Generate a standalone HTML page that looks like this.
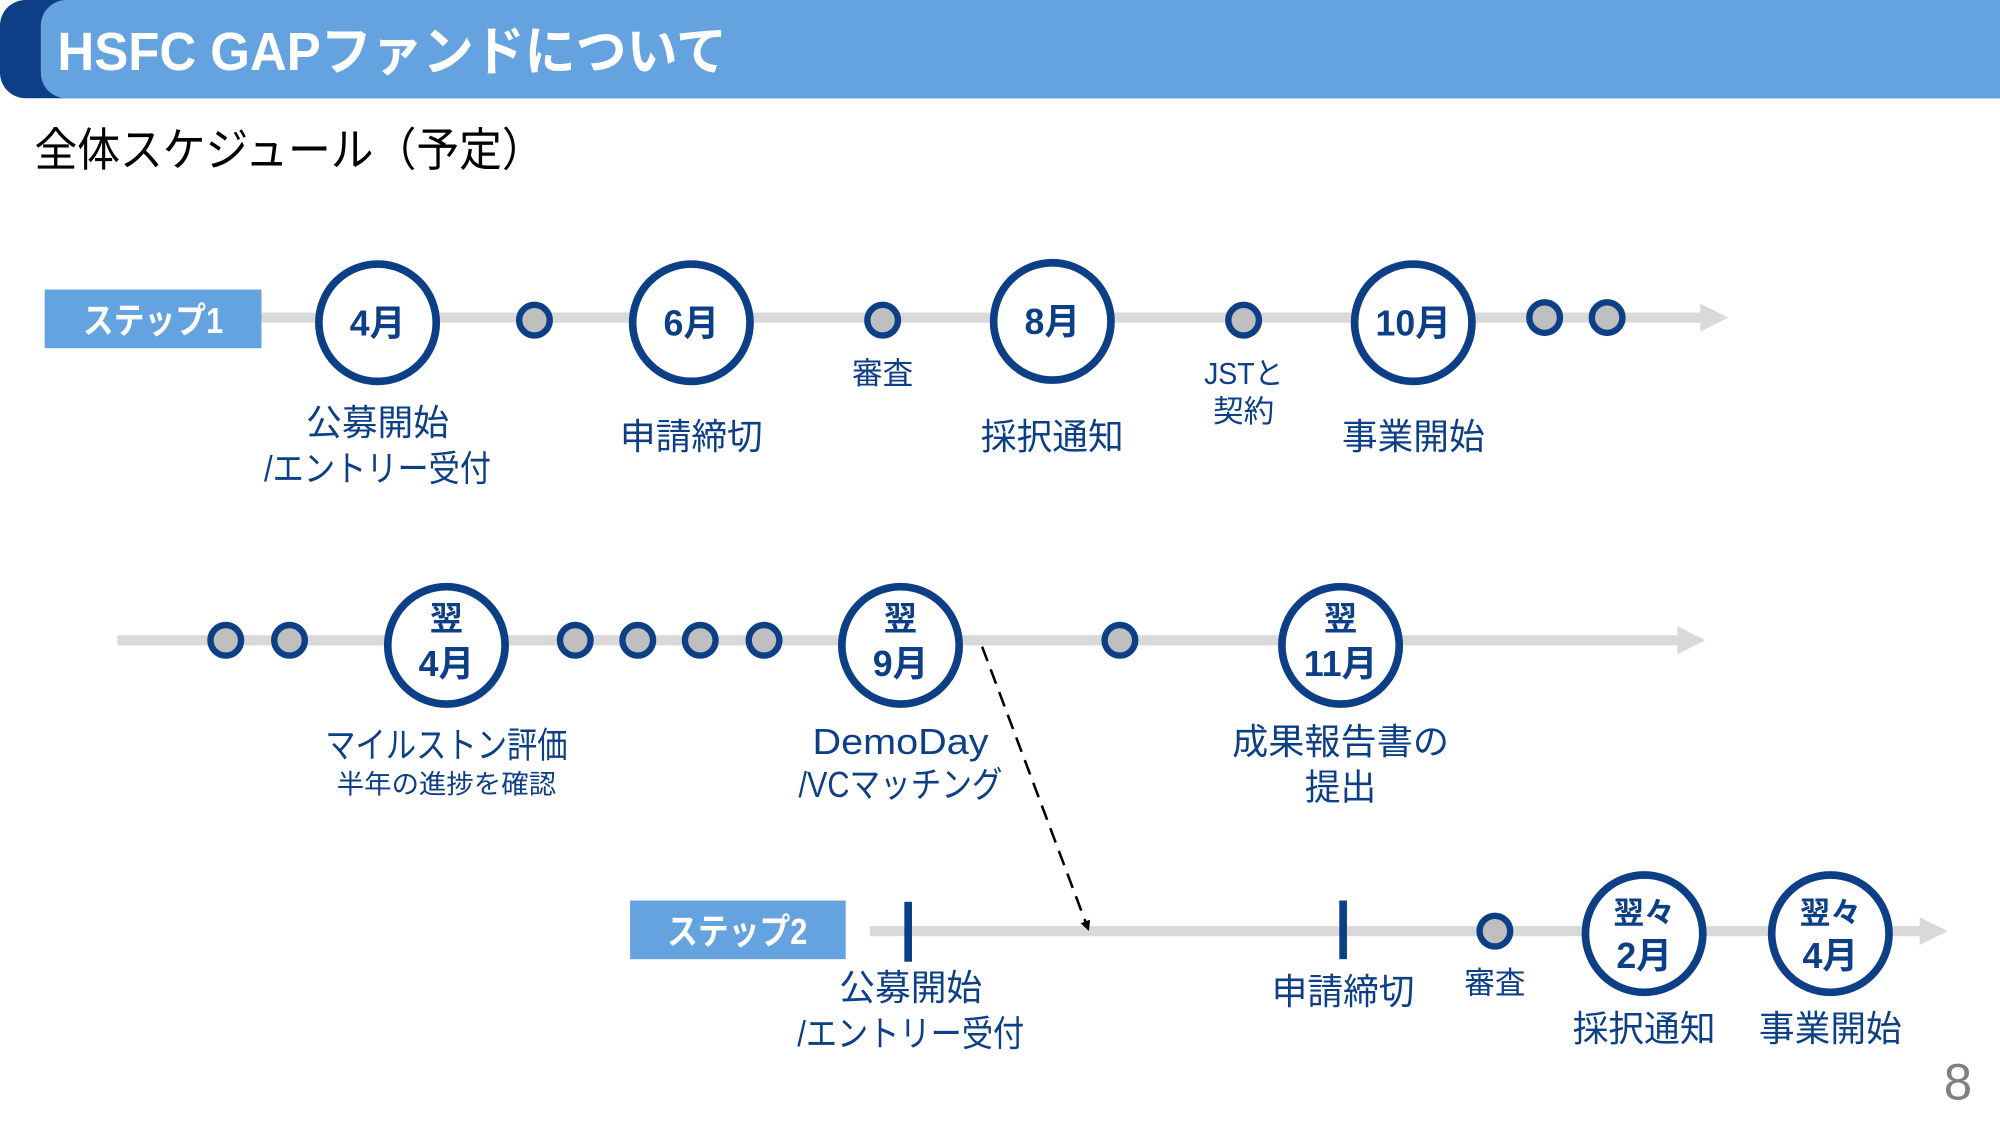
<!DOCTYPE html>
<html><head><meta charset="utf-8"><style>
html,body{margin:0;padding:0;background:#fff;}
svg{display:block;}
text{font-family:"Liberation Sans","Noto Sans CJK JP",sans-serif;}
</style></head><body>
<svg width="2000" height="1125" viewBox="0 0 1568 882" preserveAspectRatio="none" xmlns="http://www.w3.org/2000/svg">
<defs>
<marker id="ah" markerWidth="8" markerHeight="8" refX="6" refY="4" orient="auto" markerUnits="userSpaceOnUse"><path d="M0,0 L8,4 L0,8 z" fill="#000"/></marker>
</defs>
<rect x="0" y="0" width="1600" height="77" rx="20" fill="#0d3f87"/>
<rect x="32" y="0" width="1560" height="77" rx="20" fill="#64a3df"/>
<text x="45" y="55" font-size="42" font-weight="bold" fill="#fff" textLength="525" lengthAdjust="spacingAndGlyphs">HSFC GAPファンドについて</text>
<text x="27" y="130" font-size="36" fill="#000" textLength="400" lengthAdjust="spacingAndGlyphs">全体スケジュール（予定）</text>

<g fill="#d9d9d9">
<rect x="205" y="245" width="1135" height="8"/><path d="M1333,238 L1355,249 L1333,260z"/>
<rect x="92" y="498" width="1230" height="8"/><path d="M1315,491 L1337,502 L1315,513z"/>
<rect x="682" y="726" width="830" height="8"/><path d="M1505,719 L1527,730 L1505,741z"/>
</g>

<rect x="35" y="227" width="170" height="46" fill="#64a3df"/>
<text x="120" y="261" font-size="28" font-weight="bold" fill="#fff" text-anchor="middle" textLength="110" lengthAdjust="spacingAndGlyphs">ステップ1</text>
<rect x="494" y="706" width="169" height="46" fill="#64a3df"/>
<text x="578" y="740" font-size="28" font-weight="bold" fill="#fff" text-anchor="middle" textLength="110" lengthAdjust="spacingAndGlyphs">ステップ2</text>

<g fill="#bfbfbf" stroke="#0d3f87" stroke-width="5">
<circle cx="419" cy="251" r="12"/><circle cx="692" cy="251" r="12"/><circle cx="975" cy="251" r="12"/><circle cx="1211" cy="249" r="12"/><circle cx="1260" cy="249" r="12"/>
<circle cx="177" cy="502" r="12"/><circle cx="227" cy="502" r="12"/><circle cx="451" cy="502" r="12"/><circle cx="500" cy="502" r="12"/><circle cx="549" cy="502" r="12"/><circle cx="599" cy="502" r="12"/><circle cx="878" cy="502" r="12"/>
<circle cx="1172" cy="730" r="12"/>
</g>
<g fill="#fff" stroke="#0d3f87" stroke-width="6">
<circle cx="296" cy="253" r="46"/><circle cx="542" cy="253" r="46"/><circle cx="825" cy="252" r="46"/><circle cx="1108" cy="253" r="46"/>
<circle cx="350" cy="506" r="46"/><circle cx="706" cy="506" r="46"/><circle cx="1051" cy="506" r="46"/>
<circle cx="1289" cy="732" r="46"/><circle cx="1435" cy="732" r="46"/>
</g>
<rect x="709" y="707" width="6" height="47" fill="#0d3f87"/>
<rect x="1050" y="706" width="6" height="46" fill="#0d3f87"/>

<g fill="#0d3f87" font-weight="bold" font-size="28" text-anchor="middle">
<text x="296" y="263">4月</text><text x="542" y="263">6月</text><text x="825" y="262">8月</text><text x="1108" y="263">10月</text>
<text x="350" y="494" font-size="26">翌</text><text x="350" y="530">4月</text>
<text x="706" y="494" font-size="26">翌</text><text x="706" y="530">9月</text>
<text x="1051" y="494" font-size="26">翌</text><text x="1051" y="530">11月</text>
<text x="1289" y="724" font-size="24">翌々</text><text x="1289" y="759">2月</text>
<text x="1435" y="724" font-size="24">翌々</text><text x="1435" y="759">4月</text>
</g>

<g fill="#0d3f87" font-size="28" text-anchor="middle">
<text x="296" y="341">公募開始</text><text x="296" y="377" textLength="178" lengthAdjust="spacingAndGlyphs">/エントリー受付</text>
<text x="542" y="352">申請締切</text>
<text x="692" y="301" font-size="24">審査</text>
<text x="825" y="352">採択通知</text>
<text x="975" y="301" font-size="24" textLength="62" lengthAdjust="spacingAndGlyphs">JSTと</text><text x="975" y="331" font-size="24">契約</text>
<text x="1108" y="352">事業開始</text>
<text x="350" y="594" textLength="190" lengthAdjust="spacingAndGlyphs">マイルストン評価</text>
<text x="350" y="622" font-size="21" textLength="172" lengthAdjust="spacingAndGlyphs">半年の進捗を確認</text>
<text x="706" y="591" textLength="138" lengthAdjust="spacingAndGlyphs">DemoDay</text><text x="706" y="625" textLength="160" lengthAdjust="spacingAndGlyphs">/VCマッチング</text>
<text x="1051" y="591" textLength="170" lengthAdjust="spacingAndGlyphs">成果報告書の</text><text x="1051" y="627">提出</text>
<text x="714" y="784">公募開始</text><text x="714" y="820" textLength="178" lengthAdjust="spacingAndGlyphs">/エントリー受付</text>
<text x="1053" y="787">申請締切</text>
<text x="1172" y="779" font-size="24">審査</text>
<text x="1289" y="816">採択通知</text><text x="1435" y="816">事業開始</text>
</g>

<line x1="770" y1="507" x2="853" y2="728" stroke="#000" stroke-width="2" stroke-dasharray="12,7" marker-end="url(#ah)"/>
<text x="1535" y="862" font-size="40" fill="#808080" text-anchor="middle">8</text>
</svg>
</body></html>
